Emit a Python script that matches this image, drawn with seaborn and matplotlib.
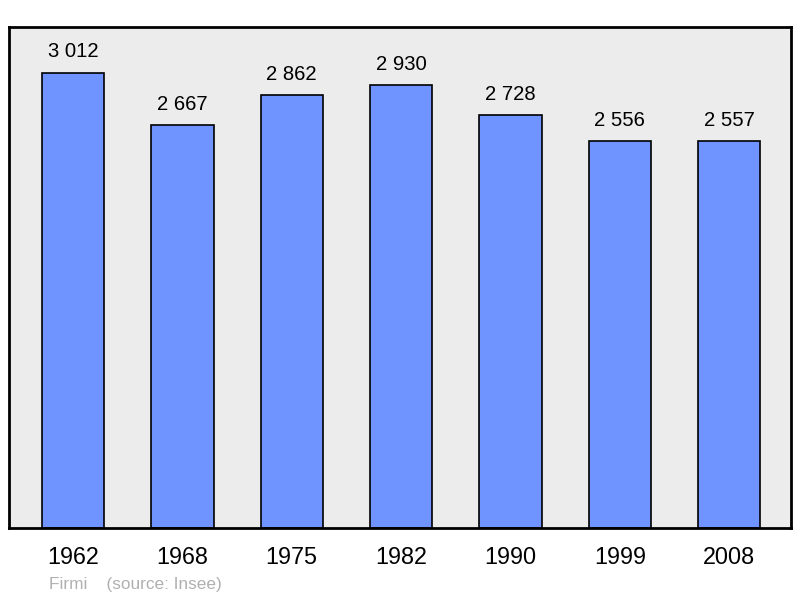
import matplotlib
matplotlib.use("Agg")
import matplotlib.pyplot as plt
import seaborn as sns
import pandas as pd

years = ["1962", "1968", "1975", "1982", "1990", "1999", "2008"]
population = [3012, 2667, 2862, 2930, 2728, 2556, 2557]
value_labels = ["3 012", "2 667", "2 862", "2 930", "2 728", "2 556", "2 557"]

data = pd.DataFrame({"year": years, "population": population})

sns.set_style("white")
plt.rcParams["font.family"] = ["Liberation Sans", "DejaVu Sans"]

fig = plt.figure(figsize=(8, 5.98), dpi=100)
ax = fig.add_axes([9 / 800, 1 - 528 / 598, 782 / 800, 501 / 598])
ax.set_facecolor("#ececec")

sns.barplot(data=data, x="year", y="population", color="#7094ff", saturation=1,
            width=0.57, edgecolor="black", linewidth=1.2, ax=ax)

for i, (v, lab) in enumerate(zip(population, value_labels)):
    ax.text(i, v + 100, lab, ha="center", va="baseline", fontsize=14.6, color="black")

ax.set_xlim(-0.585, 6.565)
ax.set_ylim(0, 3313)
ax.set_yticks([])
ax.set_xlabel("")
ax.set_ylabel("")
ax.tick_params(axis="x", length=0, labelsize=16.8, pad=13, labelcolor="black")
for s in ax.spines.values():
    s.set_visible(True)
    s.set_color("black")
    s.set_linewidth(2)

fig.text(49 / 800, 1 - 585 / 598, "Firmi    (source: Insee)", color="#b0b0b0",
         fontsize=12.4, va="center", ha="left")

fig.savefig("out.png", dpi=100)
